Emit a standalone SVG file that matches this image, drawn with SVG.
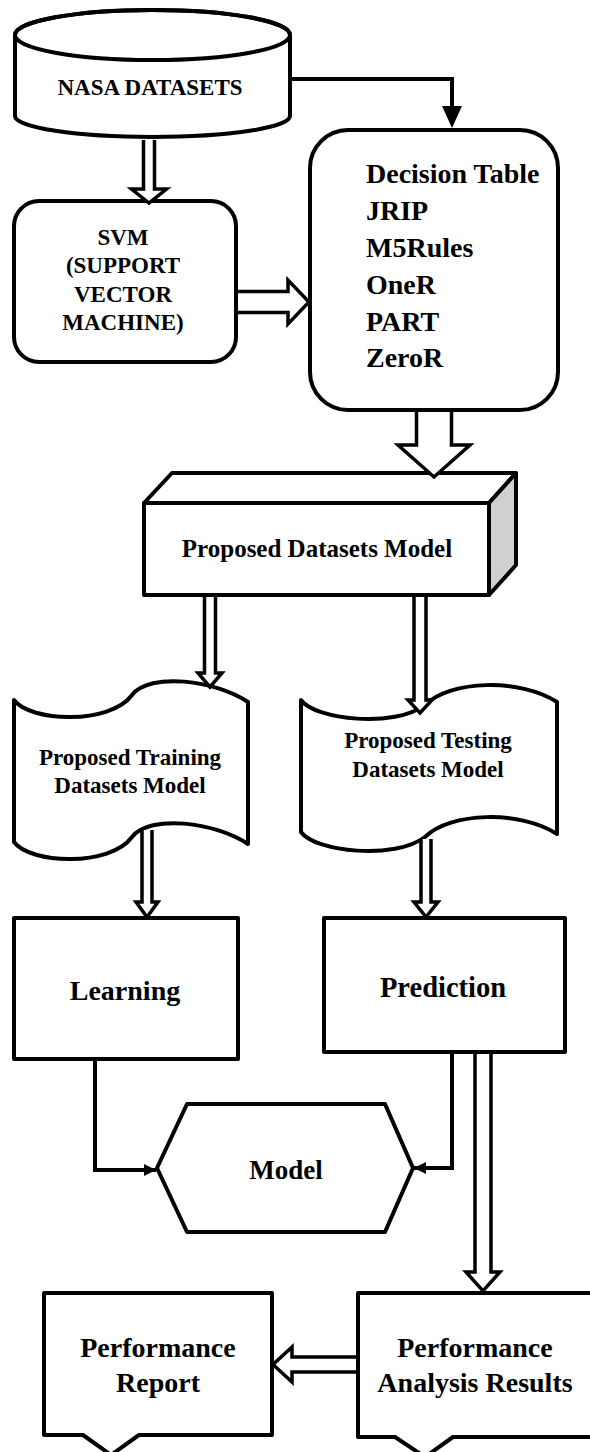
<svg xmlns="http://www.w3.org/2000/svg" width="590" height="1452" viewBox="0 0 590 1452">
<style>
.n{fill:#fff;stroke:#000;stroke-width:4;stroke-linejoin:round}
.ha{fill:#fff;stroke:#000;stroke-width:3.5;stroke-linejoin:miter}
.ln{fill:none;stroke:#000;stroke-width:4}
</style>
<defs>
<marker id="ah" markerUnits="userSpaceOnUse" markerWidth="14" markerHeight="12" refX="12" refY="6" orient="auto">
<path d="M0,0 L12,6 L0,12 Z" fill="#000"/>
</marker>
</defs>
<rect width="590" height="1452" fill="#fff"/>
<g font-family="'Liberation Serif', 'DejaVu Serif', serif" font-weight="bold" fill="#000">
<g id="nasa">
<path class="n" d="M15,35 A137.5,25 0 0 1 290,35 V116 A137.5,21 0 0 1 15,116 Z"/>
<ellipse cx="152.5" cy="35" rx="137.5" ry="25" fill="none" stroke="#000" stroke-width="4"/>
<text text-anchor="middle" x="150" y="95" font-size="23">NASA DATASETS</text>
</g>
<g id="svm">
<rect class="n" x="14" y="201" width="222" height="161" rx="25"/>
<text text-anchor="middle" font-size="23"><tspan x="123" y="245">SVM</tspan><tspan x="123" y="273">(SUPPORT</tspan><tspan x="123" y="302">VECTOR</tspan><tspan x="123" y="330">MACHINE)</tspan></text>
</g>
<g id="rules">
<rect class="n" x="310" y="130" width="248" height="280" rx="38"/>
<text font-size="28"><tspan x="366" y="183">Decision Table</tspan><tspan x="366" y="220">JRIP</tspan><tspan x="366" y="257">M5Rules</tspan><tspan x="366" y="294">OneR</tspan><tspan x="366" y="331">PART</tspan><tspan x="366" y="367">ZeroR</tspan></text>
</g>
<g id="proposed">
<rect class="n" x="144" y="503" width="345" height="92"/>
<polygon class="n" points="144,503 172,473 516,473 489,503"/>
<polygon class="n" points="489,503 516,473 516,565 489,595" style="fill:#d0d0d0"/>
<text text-anchor="middle" x="317" y="557" font-size="25">Proposed Datasets Model</text>
</g>
<g id="training">
<path class="n" d="M14,700 C30,722 110,725 132,695 C150,672 215,680 248,702 V844 C215,822 150,814 132,837 C110,867 30,864 14,842 Z"/>
<text text-anchor="middle" font-size="23"><tspan x="130" y="765">Proposed Training</tspan><tspan x="130" y="793">Datasets Model</tspan></text>
</g>
<g id="testing">
<path class="n" d="M301,700 C315,720 395,728 425,705 C450,680 520,678 557,702 V834 C520,810 450,812 425,837 C395,860 315,852 301,832 Z"/>
<text text-anchor="middle" font-size="23"><tspan x="428" y="748">Proposed Testing</tspan><tspan x="428" y="777">Datasets Model</tspan></text>
</g>
<g id="learning">
<rect class="n" x="14" y="918" width="224" height="141"/>
<text text-anchor="middle" x="125" y="1000" font-size="28">Learning</text>
</g>
<g id="prediction">
<rect class="n" x="324" y="918" width="241" height="134"/>
<text text-anchor="middle" x="443" y="997" font-size="28.5">Prediction</text>
</g>
<g id="model">
<polygon class="n" points="187,1104 385,1104 413,1168 385,1232 187,1232 157,1168"/>
<text text-anchor="middle" x="286" y="1179" font-size="27">Model</text>
</g>
<g id="report">
<path class="n" d="M44,1293 H272 V1435 H139 L111,1455 L83,1435 H44 Z"/>
<text text-anchor="middle" font-size="28"><tspan x="158" y="1357">Performance</tspan><tspan x="158" y="1392">Report</tspan></text>
</g>
<g id="analysis">
<path class="n" d="M358,1293 H600 V1437 H453 L425,1457 L395,1437 H358 Z"/>
<text text-anchor="middle" font-size="28"><tspan x="475" y="1357">Performance</tspan><tspan x="475" y="1392">Analysis Results</tspan></text>
</g>
</g>
<g id="connectors">
<path class="ln" d="M290,79 H452 V108" stroke-width="4.5"/>
<polygon points="442,106 462,106 452,128" fill="#000"/>
<path class="ha" d="M143.5,140 V189 H131.5 L149,203 L166.5,189 H154.5 V140"/>
<path class="ha" d="M238,291.5 H288 V280 L309,302 L288,324 V312.5 H238"/>
<path class="ha" d="M416.5,412 V445 H398 L434,477 L470,445 H451.5 V412"/>
<path class="ha" d="M204.5,597 V673 H198 L210,687 L222,673 H215.5 V597"/>
<path class="ha" d="M414,597 V700 H408 L420,713 L432,700 H426 V597"/>
<path class="ha" d="M142,830 V902 H136 L147,917 L158,902 H152 V830"/>
<path class="ha" d="M421,839 V902 H414 L426,917 L438,902 H431 V839"/>
<path class="ha" d="M475,1054 V1272 H466 L483,1291 L500,1272 H491 V1054"/>
<path class="ha" d="M356,1357 H292 V1347 L273,1364.5 L292,1382 V1372 H356"/>
<path class="ln" d="M95,1061 V1170 H156" marker-end="url(#ah)"/>
<path class="ln" d="M452,1054 V1168 H414" marker-end="url(#ah)"/>
</g>
</svg>
